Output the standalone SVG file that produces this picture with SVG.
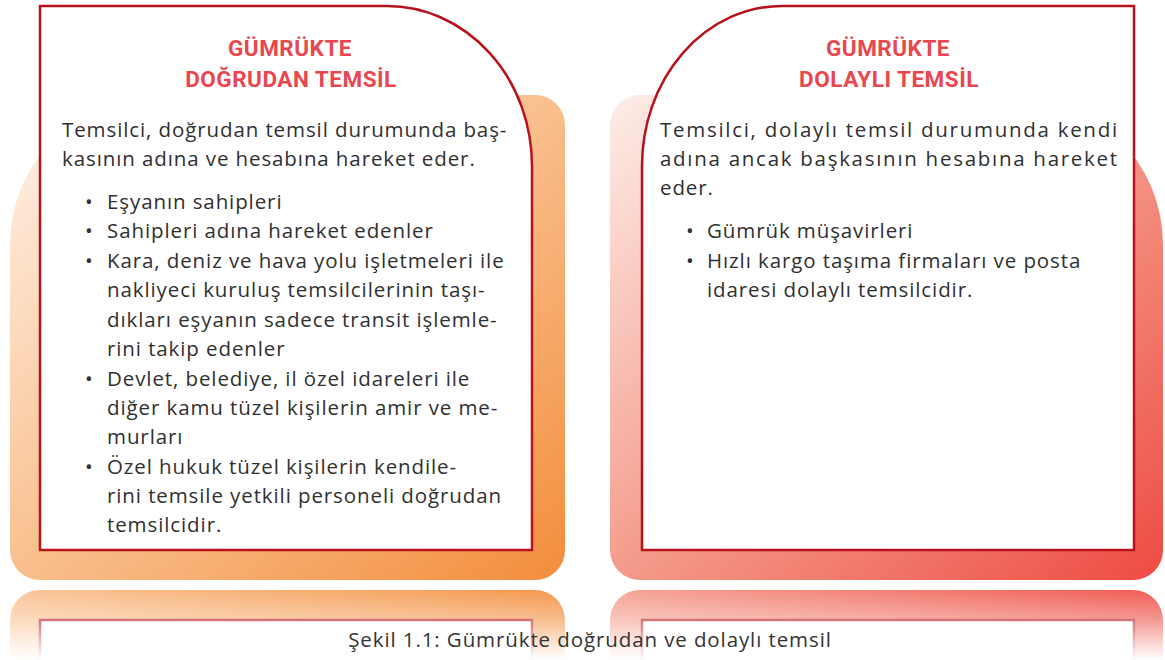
<svg xmlns="http://www.w3.org/2000/svg" width="1165" height="660" viewBox="0 0 1165 660">
<defs>
<style>
.title{font-family:"Roboto","Liberation Sans",sans-serif;font-weight:700;font-size:22.5px;letter-spacing:0.5px;fill:#e8474f;text-anchor:middle}
.body{font-family:"Open Sans","Liberation Sans",sans-serif;font-weight:400;font-size:20.5px;letter-spacing:0.9px;fill:#303030}
.card{fill:#ffffff;stroke:#b8121c;stroke-width:2.5}
.cap{font-family:"Open Sans","Liberation Sans",sans-serif;font-weight:400;font-size:20.5px;letter-spacing:0.9px;fill:#333333;text-anchor:middle}
</style>
<linearGradient id="gOr" x1="0" y1="0" x2="1" y2="1">
<stop offset="0" stop-color="#fff4ec"/>
<stop offset="0.5" stop-color="#f9bf8d"/>
<stop offset="1" stop-color="#f38d3c"/>
</linearGradient>
<linearGradient id="gRd" x1="0" y1="0" x2="1" y2="1">
<stop offset="0" stop-color="#fdeee9"/>
<stop offset="0.5" stop-color="#f49b8b"/>
<stop offset="1" stop-color="#ee4b42"/>
</linearGradient>
<linearGradient id="fade" gradientUnits="userSpaceOnUse" x1="0" y1="586" x2="0" y2="660">
<stop offset="0" stop-color="#fff" stop-opacity="0.95"/>
<stop offset="0.45" stop-color="#fff" stop-opacity="0.6"/>
<stop offset="1" stop-color="#fff" stop-opacity="0"/>
</linearGradient>
<mask id="m" maskUnits="userSpaceOnUse" x="0" y="580" width="1165" height="80">
<rect x="0" y="580" width="1165" height="80" fill="url(#fade)"/>
</mask>
<path id="frL" d="M160,95 L535,95 A30,30 0 0 1 565,125 L565,550 A30,30 0 0 1 535,580 L40,580 A30,30 0 0 1 10,550 L10,245 A150,150 0 0 1 160,95 Z"/>
<path id="frR" d="M640,95 L1013,95 A150,150 0 0 1 1163,245 L1163,550 A30,30 0 0 1 1133,580 L640,580 A30,30 0 0 1 610,550 L610,125 A30,30 0 0 1 640,95 Z"/>
<path id="cdL" d="M40,6 L387,6 A145,160 0 0 1 532,166 L532,550 L40,550 Z"/>
<path id="cdR" d="M642,166 A140,160 0 0 1 782,6 L1134,6 L1134,550 L642,550 Z"/>
</defs>
<rect width="1165" height="660" fill="#ffffff"/>

<g id="reflection" mask="url(#m)">
<g transform="translate(0,1170) scale(1,-1)">
<use href="#frL" fill="url(#gOr)"/>
<use href="#frR" fill="url(#gRd)"/>
<use href="#cdL" class="card"/>
<use href="#cdR" class="card"/>
</g>
</g>

<g id="card-dogrudan">
<use href="#frL" fill="url(#gOr)"/>
<use href="#cdL" class="card"/>
<text class="title" x="290" y="56">GÜMRÜKTE</text>
<text class="title" x="291" y="87">DOĞRUDAN TEMSİL</text>
<text class="body" x="62" y="137">Temsilci, doğrudan temsil durumunda baş-</text>
<text class="body" x="62" y="166">kasının adına ve hesabına hareket eder.</text>
<g class="body">
<text x="85" y="209">•</text><text x="107" y="209">Eşyanın sahipleri</text>
<text x="85" y="238">•</text><text x="107" y="238">Sahipleri adına hareket edenler</text>
<text x="85" y="268">•</text><text x="107" y="268">Kara, deniz ve hava yolu işletmeleri ile</text>
<text x="107" y="297">nakliyeci kuruluş temsilcilerinin taşı-</text>
<text x="107" y="327">dıkları eşyanın sadece transit işlemle-</text>
<text x="107" y="356">rini takip edenler</text>
<text x="85" y="386">•</text><text x="107" y="386">Devlet, belediye, il özel idareleri ile</text>
<text x="107" y="415">diğer kamu tüzel kişilerin amir ve me-</text>
<text x="107" y="444">murları</text>
<text x="85" y="474">•</text><text x="107" y="474">Özel hukuk tüzel kişilerin kendile-</text>
<text x="107" y="503">rini temsile yetkili personeli doğrudan</text>
<text x="107" y="532">temsilcidir.</text>
</g>
</g>

<g id="card-dolayli">
<use href="#frR" fill="url(#gRd)"/>
<use href="#cdR" class="card"/>
<text class="title" x="888" y="56">GÜMRÜKTE</text>
<text class="title" x="889" y="87">DOLAYLI TEMSİL</text>
<text class="body" x="660" y="137" textLength="458" lengthAdjust="spacing">Temsilci, dolaylı temsil durumunda kendi</text>
<text class="body" x="660" y="166" textLength="458" lengthAdjust="spacing">adına ancak başkasının hesabına hareket</text>
<text class="body" x="660" y="195">eder.</text>
<g class="body">
<text x="686" y="238">•</text><text x="707" y="238">Gümrük müşavirleri</text>
<text x="686" y="268">•</text><text x="707" y="268">Hızlı kargo taşıma firmaları ve posta</text>
<text x="707" y="297">idaresi dolaylı temsilcidir.</text>
</g>
</g>

<g id="connectors"/>

<g id="caption">
<text class="cap" x="590" y="647">Şekil 1.1: Gümrükte doğrudan ve dolaylı temsil</text>
</g>
</svg>
